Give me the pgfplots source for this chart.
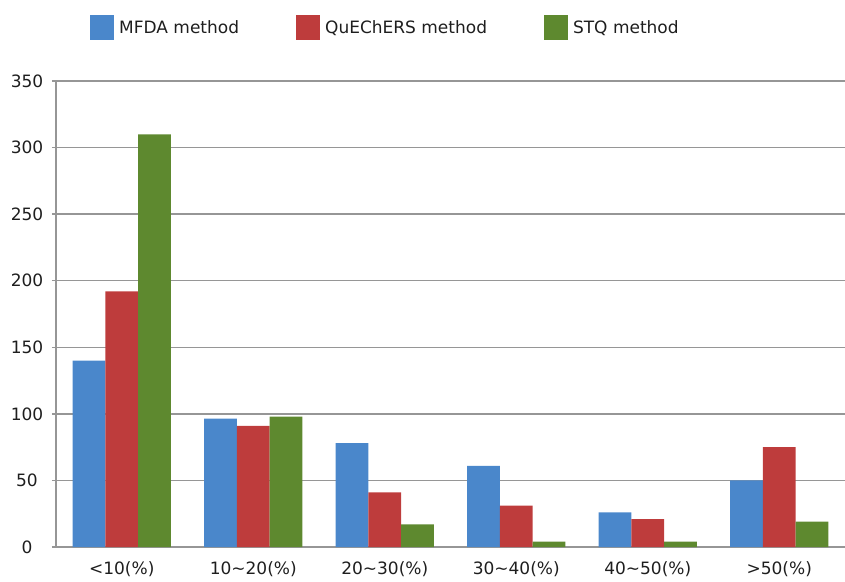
\documentclass[border=0pt]{standalone}
\usepackage{fontspec}
\setmainfont{DejaVu Sans}
\usepackage{pgfplots}
\pgfplotsset{compat=1.18}
\definecolor{cblue}{RGB}{74,135,203}
\definecolor{cred}{RGB}{190,60,60}
\definecolor{cgreen}{RGB}{94,137,47}
\definecolor{cgrid}{RGB}{150,150,150}
\definecolor{ctext}{RGB}{30,30,30}
\begin{document}
\begin{tikzpicture}
\begin{axis}[
  at={(0,0)}, anchor=south west,
  scale only axis, width=789pt, height=466pt,
  ybar=0pt, bar width=32.8pt,
  xmin=-0.5, xmax=5.5, ymin=0, ymax=350,
  ytick={0,50,...,350},
  xtick=data,
  xticklabels={{<10(\%)},{10\char`~20(\%)},{20\char`~30(\%)},{30\char`~40(\%)},{40\char`~50(\%)},{>50(\%)}},
  axis x line=bottom, axis y line=left,
  axis line style={cgrid, line width=1.5pt, -},
  ymajorgrids, major grid style={cgrid, line width=1.5pt},
  major x tick style={draw=none},
  major y tick style={cgrid, line width=1.5pt},
  tick align=outside, major tick length=4pt,
  /pgf/number format/assume math mode=true,
  tick label style={font=\fontsize{17}{20}\selectfont, text=ctext},
  yticklabel style={anchor=center, xshift=-25pt},
  xticklabel style={yshift=-7pt},
  legend columns=3,
  legend style={draw=none, fill=none, at={(31pt,519pt)}, anchor=west,
    font=\fontsize{17}{20}\selectfont, text=ctext,
    /tikz/every odd column/.append style={column sep=2pt},
    /tikz/every even column/.append style={column sep=54pt},
    nodes={inner sep=3pt}},
  legend image code/.code={\fill[#1] (0pt,-12.5pt) rectangle (24pt,12.5pt);},
]
\addplot[fill=cblue, draw=none] coordinates {(0,140) (1,96.5) (2,78) (3,61) (4,26) (5,50)};
\addplot[fill=cred, draw=none] coordinates {(0,192) (1,91) (2,41) (3,31) (4,21) (5,75)};
\addplot[fill=cgreen, draw=none] coordinates {(0,310) (1,98) (2,17) (3,4) (4,4) (5,19)};
\legend{MFDA method, QuEChERS method, STQ method}
\end{axis}
\pgfresetboundingbox
\path[use as bounding box] (-56pt,-34pt) rectangle (789pt,547pt);
\end{tikzpicture}
\end{document}
